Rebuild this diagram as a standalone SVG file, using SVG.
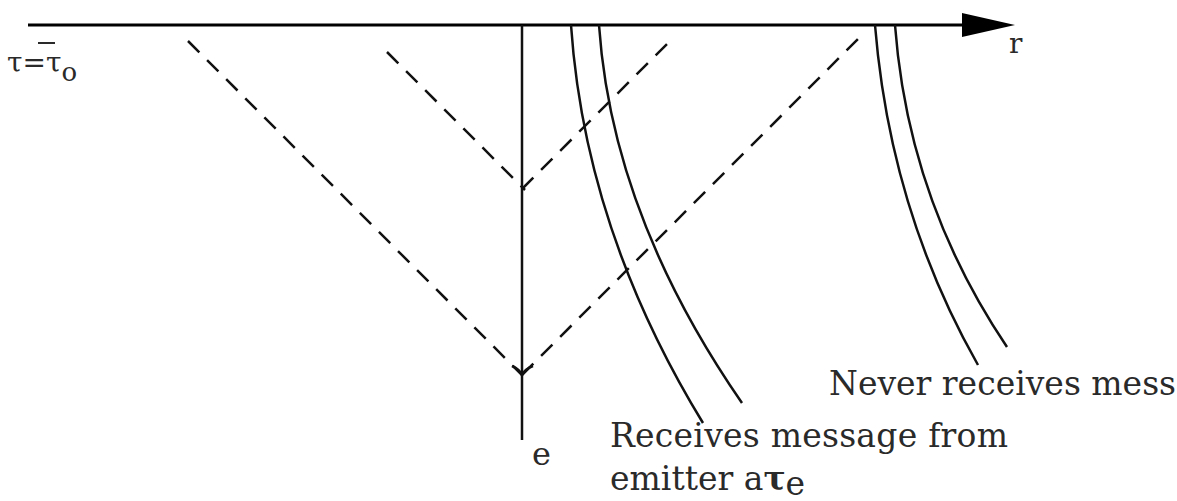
<svg xmlns="http://www.w3.org/2000/svg" width="1177" height="501" viewBox="0 0 1177 501">
<style>
.ax{stroke:#000;stroke-width:3;fill:none}
.wl{stroke:#111;stroke-width:2.5;fill:none}
.ds{stroke:#111;stroke-width:2.5;fill:none;stroke-dasharray:16 11}
.t{font-family:"DejaVu Serif","Liberation Serif",serif;fill:#2a2a2a}
</style>
<rect width="1177" height="501" fill="#fff"/>
<g id="connectors">
<line class="ax" x1="28" y1="25" x2="965" y2="25"/>
<polygon points="962,13 1015,25 962,37" fill="#000"/>
<line class="wl" x1="522" y1="25" x2="522" y2="440"/>
<line class="ds" x1="188" y1="41" x2="522" y2="375"/>
<line class="ds" x1="522" y1="375" x2="862" y2="35"/>
<line class="ds" x1="387" y1="52" x2="525" y2="190"/>
<line class="ds" x1="522" y1="189" x2="673" y2="38"/>
<path class="wl" d="M512,366 Q519,369 522,375 Q525,369 533,366"/>
</g>
<g id="receivers">
<path class="wl" d="M571,25 Q585,230 703,423"/>
<path class="wl" d="M599,25 Q612,215 742,403"/>
</g>
<g id="nonreceivers">
<path class="wl" d="M875,25 Q890,210 978,365"/>
<path class="wl" d="M895,25 Q908,200 1007,347"/>
</g>
<g id="labels">
<text class="t" x="7" y="72" font-size="28">τ=τ<tspan font-size="26" dy="9">o</tspan></text>
<line x1="38" y1="43" x2="55" y2="43" stroke="#2a2a2a" stroke-width="2"/>
<text class="t" x="1009" y="53" font-size="28">r</text>
<text class="t" x="532" y="465" font-size="32">e</text>
<text class="t" x="610" y="447" font-size="33" textLength="398">Receives message from</text>
<text class="t" x="610" y="490" font-size="33">emitter a<tspan font-weight="bold">τ</tspan><tspan dy="5">e</tspan></text>
<text class="t" x="829" y="395" font-size="33">Never receives mess</text>
</g>
</svg>
